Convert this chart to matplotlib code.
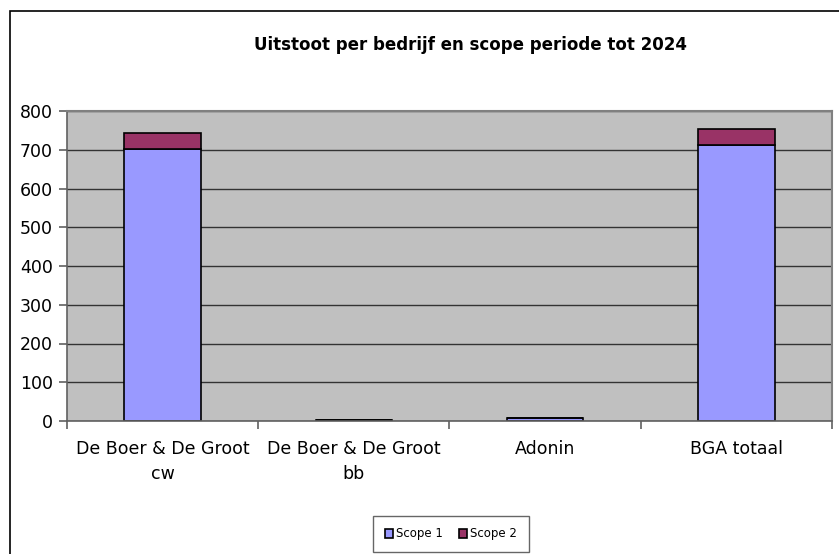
import numpy as np
import matplotlib.pyplot as plt
from matplotlib.patches import Rectangle

bedrijven = ['De Boer & De Groot\ncw', 'De Boer & De Groot\nbb', 'Adonin', 'BGA totaal']
scope1 = [702, 2, 8, 712]
scope2 = [41, 1, 1, 41]

fig = plt.figure(figsize=(8.39, 5.54), dpi=100)
W, H = 839, 554
ax = fig.add_axes([67 / W, 1 - 421 / H, (832 - 67) / W, (421 - 111) / H])

# buitenrand van de grafiek
fig.patches.append(Rectangle((10 / W, -0.1), 1.0, 1 - 11 / H + 0.1, transform=fig.transFigure,
                             fill=False, edgecolor='black', linewidth=1.2))

x = np.arange(len(bedrijven))
ax.set_facecolor('#C0C0C0')
ax.bar(x, scope1, width=0.4, color='#9999FF', edgecolor='black', linewidth=1.2, label='Scope 1', zorder=3)
ax.bar(x, scope2, width=0.4, bottom=scope1, color='#993366', edgecolor='black', linewidth=1.2,
       label='Scope 2', zorder=3)

ax.set_xlim(-0.5, len(bedrijven) - 0.5)
ax.set_ylim(0, 800)
ax.set_yticks(np.arange(0, 801, 100))
ax.yaxis.grid(True, color='#333333', linewidth=1.0, zorder=1)
ax.set_axisbelow(True)

ax.set_xticks(x)
ax.set_xticklabels(bedrijven, fontsize=12.5, linespacing=1.45)
ax.set_xticks(np.arange(-0.5, len(bedrijven)), minor=True)
ax.tick_params(axis='x', which='major', length=0, pad=14)
ax.tick_params(axis='x', which='minor', length=6, color='#606060', width=1.2)
ax.tick_params(axis='y', length=6, color='#606060', width=1.2, labelsize=12.5, pad=4)

for kant in ['top', 'right']:
    ax.spines[kant].set_color('#808080')
    ax.spines[kant].set_linewidth(1.5)
    ax.spines[kant].set_zorder(4)
for kant in ['left', 'bottom']:
    ax.spines[kant].set_color('#606060')
    ax.spines[kant].set_linewidth(1.2)
    ax.spines[kant].set_zorder(4)

fig.text(470 / W, 1 - 45 / H, 'Uitstoot per bedrijf en scope periode tot 2024',
         ha='center', va='center', fontsize=12, fontweight='bold')

leg = fig.legend(loc='center', bbox_to_anchor=(451 / W, 1 - 534 / H), ncol=2, fontsize=8.5,
                 frameon=True, fancybox=False, edgecolor='#404040', handlelength=0.7,
                 handleheight=0.7, handletextpad=0.3, columnspacing=1.3, borderpad=1.0)
leg.get_frame().set_linewidth(1.0)

fig.savefig('out.png', dpi=100, facecolor='white')
